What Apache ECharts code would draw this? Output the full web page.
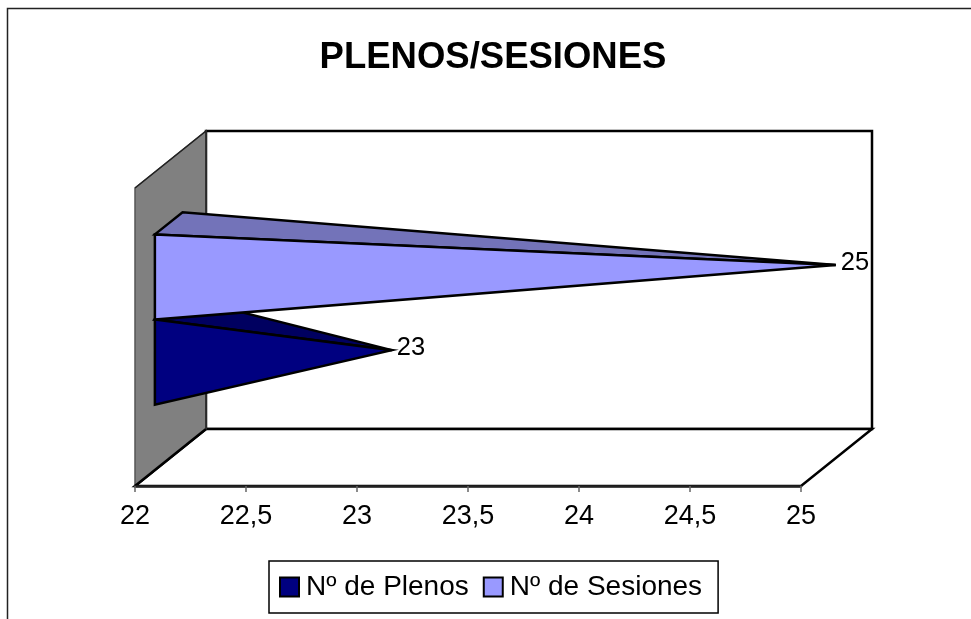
<!DOCTYPE html>
<html>
<head>
<meta charset="utf-8">
<style>html,body{margin:0;padding:0;background:#fff;overflow:hidden}#c{width:971px;height:619px}</style>
<script src="https://cdn.jsdelivr.net/npm/echarts@6/dist/echarts.min.js"></script>
</head>
<body>
<div id="c"></div>
<script>
const titleText = 'PLENOS/SESIONES';
const categories = [''];
const plenos = [23];
const sesiones = [25];
const axisMin = 22, axisMax = 25, axisStep = 0.5;
const FONT = '"Liberation Sans", Arial, sans-serif';
const DX = 71, DY = -57;           // 3D depth of the box
const gapRatio = 3.5;              // band / bar thickness
const centerNudge = -1.5;

const chart = echarts.init(document.getElementById('c'), null, {renderer: 'canvas'});

function wallsItem(params, api) {
  const s = api.coord([axisMin, 0]);
  const band = api.size([0, 1])[1];
  const x0 = s[0];
  const x1 = api.coord([axisMax, 0])[0];
  const top = s[1] - band / 2, bot = s[1] + band / 2;
  return {
    type: 'group',
    children: [
      {type: 'polygon', shape: {points: [[x0 + DX, top + DY], [x1 + DX, top + DY], [x1 + DX, bot + DY], [x0 + DX, bot + DY]]},
        style: {fill: '#fff', stroke: '#000', lineWidth: 2.5}},
      {type: 'polygon', shape: {points: [[x0, bot], [x0 + DX, bot + DY], [x1 + DX, bot + DY], [x1, bot]]},
        style: {fill: '#fff', stroke: '#000', lineWidth: 2.5}},
      {type: 'polygon', shape: {points: [[x0, top], [x0 + DX, top + DY], [x0 + DX, bot + DY], [x0, bot]]},
        style: {fill: '#808080', stroke: '#555', lineWidth: 1.5}},
      {type: 'polyline', shape: {points: [[x0, bot], [x0 + DX, bot + DY]]}, style: {fill: null, stroke: '#000', lineWidth: 2.5}},
      {type: 'polyline', shape: {points: [[x0, top], [x0 + DX, top + DY], [x0 + DX, bot + DY]]}, style: {fill: null, stroke: '#222', lineWidth: 1.5}}
    ]
  };
}

function pyramidItem(sign, front, topFace) {
  return function (params, api) {
    const base = api.coord([axisMin, 0]);
    const tip = api.coord([api.value(0), 0]);
    const band = api.size([0, 1])[1];
    const t = band / gapRatio;
    const cy = base[1] + centerNudge + sign * t / 2;
    const p = (x, y, d) => [x + DX * d, y + DY * d];
    const a = p(base[0], cy - t / 2, 0.28);
    const b = p(base[0], cy + t / 2, 0.28);
    const c = p(base[0], cy - t / 2, 0.67);
    const apex = p(tip[0], cy, 0.49);
    return {
      type: 'group',
      children: [
        {type: 'polygon', shape: {points: [a, c, apex]},
          style: {fill: topFace, stroke: '#000', lineWidth: 2.5, lineJoin: 'miter'}},
        {type: 'polygon', shape: {points: [a, apex, b]},
          style: {fill: front, stroke: '#000', lineWidth: 2.5, lineJoin: 'miter'}},
        {type: 'text', style: {text: String(api.value(0)), x: apex[0] + 5, y: apex[1] - 2,
          align: 'left', verticalAlign: 'middle', fill: '#000', font: '25.5px ' + FONT}}
      ]
    };
  };
}

chart.setOption({
  animation: false,
  backgroundColor: '#fff',
  title: {
    text: titleText, left: 488, top: 34, textAlign: 'center',
    textStyle: {fontFamily: FONT, fontSize: 36.5, fontWeight: 'bold', color: '#000'}
  },
  legend: {
    left: 269, top: 561, orient: 'horizontal',
    padding: [12, 16, 12, 10], itemGap: 14, itemWidth: 19, itemHeight: 19,
    borderColor: '#000', borderWidth: 1.5, backgroundColor: '#fff',
    textStyle: {fontFamily: FONT, fontSize: 28, color: '#000', padding: [0, 0, 0, 2]},
    data: [
      {name: 'Nº de Plenos', icon: 'rect', itemStyle: {color: '#000080', borderColor: '#000', borderWidth: 2}},
      {name: 'Nº de Sesiones', icon: 'rect', itemStyle: {color: '#9999ff', borderColor: '#000', borderWidth: 2}}
    ]
  },
  grid: {left: 135, top: 188, width: 666, height: 298},
  xAxis: {
    type: 'value', min: axisMin, max: axisMax, interval: axisStep, splitLine: {show: false},
    axisLine: {show: true, onZero: false, lineStyle: {color: '#222', width: 2.5}},
    axisTick: {show: true, length: 6, lineStyle: {color: '#666', width: 1.5}},
    axisLabel: {margin: 17, color: '#000', fontFamily: FONT, fontSize: 27,
      formatter: v => String(v).replace('.', ',')}
  },
  yAxis: {type: 'category', data: categories, show: false},
  graphic: [{
    type: 'polyline', silent: true, z: 0,
    shape: {points: [[7.5, 640], [7.5, 8.5], [990, 8.5]]},
    style: {fill: null, stroke: '#222', lineWidth: 1.5}
  }],
  series: [
    {type: 'custom', name: 'walls', silent: true, z: 0, clip: false, renderItem: wallsItem,
      encode: {x: 0, y: 1}, data: [[axisMax, 0]]},
    {type: 'custom', name: 'Nº de Plenos', z: 3, clip: false, itemStyle: {color: '#000080'},
      renderItem: pyramidItem(1, '#000080', '#000060'),
      encode: {x: 0, y: 1}, data: plenos.map((v, i) => [v, i])},
    {type: 'custom', name: 'Nº de Sesiones', z: 4, clip: false, itemStyle: {color: '#9999ff'},
      renderItem: pyramidItem(-1, '#9999ff', '#7373b9'),
      encode: {x: 0, y: 1}, data: sesiones.map((v, i) => [v, i])}
  ]
});
</script>
</body>
</html>
